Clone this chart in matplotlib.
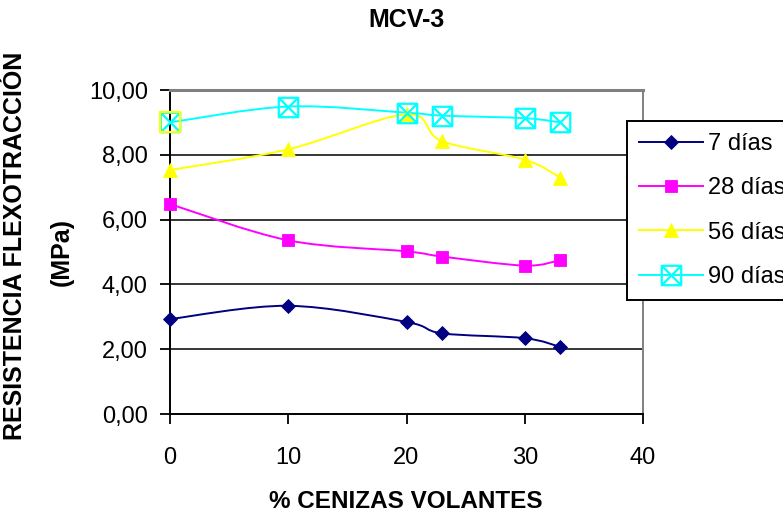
#!/usr/bin/env python3
"""
Flexural-tensile strength of MCV-3 mixes against fly-ash content,
one smoothed curve per curing age.
"""
import numpy as np
import matplotlib
matplotlib.use('Agg')
import matplotlib.pyplot as plt
from matplotlib.path import Path
from matplotlib.patches import PathPatch
from matplotlib.lines import Line2D
from matplotlib.ticker import FuncFormatter

plt.rcParams['font.family'] = ['Liberation Sans', 'DejaVu Sans']

# % fly ash in the mix
cenizas = [0, 10, 20, 23, 30, 33]

# strength in MPa for each curing age
dias_7 = [2.93, 3.34, 2.84, 2.49, 2.34, 2.07]
dias_28 = [6.48, 5.36, 5.02, 4.86, 4.58, 4.75]
dias_56 = [7.53, 8.17, 9.25, 8.42, 7.85, 7.29]
dias_90 = [9.00, 9.49, 9.30, 9.21, 9.13, 9.00]

series_labels = ['7 días', '28 días', '56 días', '90 días']
x_ticks = [0, 10, 20, 30, 40]
y_ticks = [0, 2, 4, 6, 8, 10]

# square with an X through it
box_x = Path(
    [(-1, -1), (1, -1), (1, 1), (-1, 1), (-1, -1),
     (-1, -1), (1, 1), (-1, 1), (1, -1)],
    [Path.MOVETO, Path.LINETO, Path.LINETO, Path.LINETO, Path.CLOSEPOLY,
     Path.MOVETO, Path.LINETO, Path.MOVETO, Path.LINETO],
)

styles = [
    dict(color='#000080', marker='D', ms=7.4, mew=0.6, mfc='#000080'),
    dict(color='#FF00FF', marker='s', ms=9.2, mew=0.6, mfc='#FF00FF'),
    dict(color='#FFFF00', marker='^', ms=10.5, mew=0.6, mfc='#FFFF00'),
    dict(color='#00FFFF', marker=box_x, ms=14, mew=1.6, mfc='none'),
]


def smooth_path(x, y):
    """Bezier path through the points, same idea as a spreadsheet smoothed line."""
    pts = np.column_stack([x, y]).astype(float)
    n = len(pts)
    verts = [pts[0]]
    codes = [Path.MOVETO]
    for i in range(n - 1):
        p0 = pts[max(i - 1, 0)]
        p1 = pts[i]
        p2 = pts[i + 1]
        p3 = pts[min(i + 2, n - 1)]
        verts += [p1 + (p2 - p0) / 6, p2 - (p3 - p1) / 6, p2]
        codes += [Path.CURVE4] * 3
    return Path(verts, codes)


fig = plt.figure(figsize=(7.83, 5.13), dpi=100)
ax = fig.add_axes([170 / 783, 1 - 414 / 513, 473 / 783, 324 / 513])

lw = 1.4
for ys, st in zip([dias_7, dias_28, dias_56, dias_90], styles):
    ax.add_patch(PathPatch(smooth_path(cenizas, ys), fill=False,
                           edgecolor=st['color'], lw=lw, clip_on=False, zorder=3))
    ax.plot(cenizas, ys, ls='none', marker=st['marker'], ms=st['ms'],
            mfc=st['mfc'], mec=st['color'], mew=st['mew'],
            clip_on=False, zorder=4)

# first 90-day marker has a yellow frame
ax.plot(cenizas[:1], dias_90[:1], ls='none', marker='s', ms=14, mfc='none',
        mec='#FFFF00', mew=1.6, clip_on=False, zorder=5)

ax.set_xlim(0, 40)
ax.set_ylim(0, 10)
ax.set_xticks(x_ticks)
ax.set_yticks(y_ticks)
ax.yaxis.set_major_formatter(FuncFormatter(lambda v, _: '{:.2f}'.format(v).replace('.', ',')))
ax.tick_params(axis='both', direction='out', length=7, width=1.3, labelsize=17, colors='black')
ax.tick_params(axis='y', pad=9)
ax.tick_params(axis='x', pad=17)

for v in y_ticks[1:-1]:
    ax.axhline(v, color='black', lw=1.1, zorder=1)

for side in ['left', 'bottom']:
    ax.spines[side].set_color('black')
    ax.spines[side].set_linewidth(1.4)
ax.spines['top'].set_color('#808080')
ax.spines['top'].set_linewidth(2.2)
ax.spines['right'].set_color('#808080')
ax.spines['right'].set_linewidth(1.4)

fig.text(407 / 783, 1 - 20 / 513, 'MCV-3', ha='center', va='center',
         fontsize=18, fontweight='bold')
fig.text(406 / 783, 1 - 502 / 513, '% CENIZAS VOLANTES', ha='center', va='center',
         fontsize=17.5, fontweight='bold')
fig.text(15 / 783, 1 - 246 / 513, 'RESISTENCIA FLEXOTRACCIÓN', ha='center', va='center',
         rotation=90, fontsize=18, fontweight='bold')
fig.text(62 / 783, 1 - 252 / 513, '(MPa)', ha='center', va='center',
         rotation=90, fontsize=18, fontweight='bold')

handles = [Line2D([], [], color=st['color'], lw=lw, marker=st['marker'], ms=st['ms'],
                  mfc=st['mfc'], mec=st['color'], mew=st['mew'])
           for st in styles]
leg = fig.legend(handles, series_labels, loc='upper left',
                 bbox_to_anchor=(627 / 783, 1 - 121 / 513), borderaxespad=0,
                 fontsize=17, frameon=True, fancybox=False, shadow=False,
                 handlelength=2.7, handletextpad=0.25, labelspacing=0.95,
                 borderpad=0.5)
frame = leg.get_frame()
frame.set_edgecolor('black')
frame.set_linewidth(1.4)
frame.set_alpha(1)

fig.savefig('out.png', dpi=100)
